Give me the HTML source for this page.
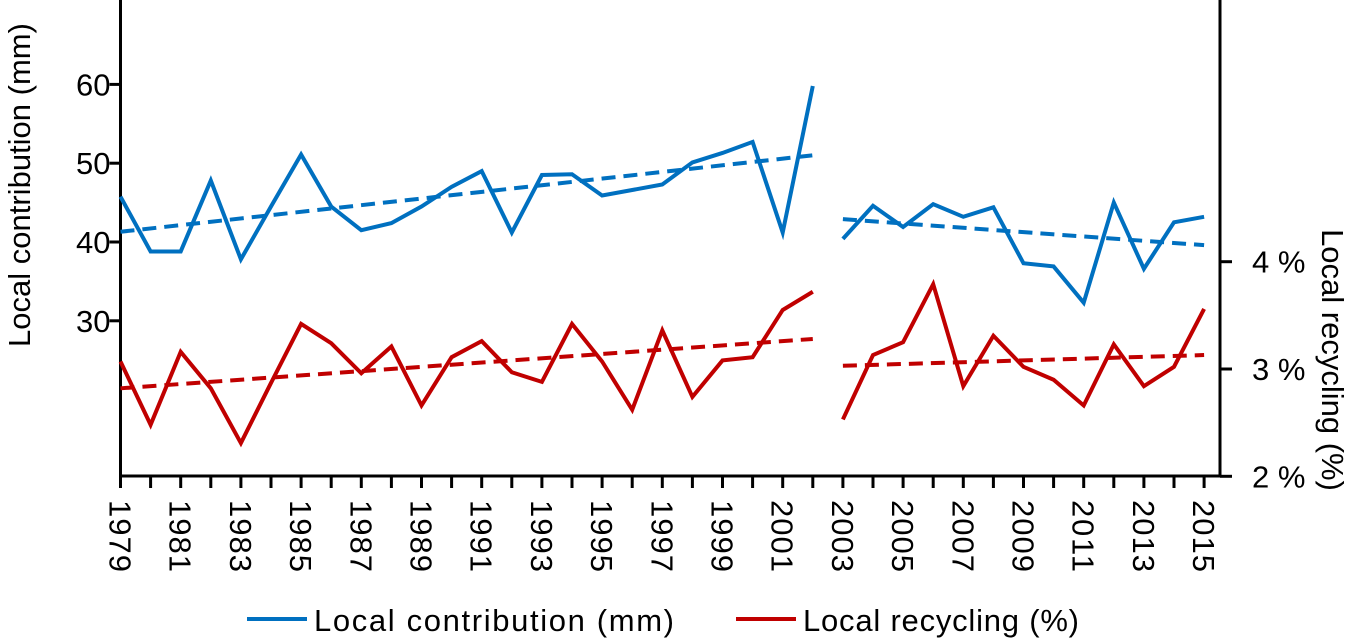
<!DOCTYPE html>
<html><head><meta charset="utf-8"><style>
html,body{margin:0;padding:0;background:#fff;overflow:hidden;}
svg{display:block;font-family:"Liberation Sans",sans-serif;}
</style></head><body>
<svg id="chart" width="1349" height="638" viewBox="0 0 1349 638">
<g id="axes"></g>
<g id="series"></g>
<text transform="translate(30,185) rotate(-90)" text-anchor="middle" font-size="31">Local contribution (mm)</text>
<text transform="translate(1322,360) rotate(90)" text-anchor="middle" font-size="31">Local recycling (%)</text>
<g>
<line x1="247" y1="619" x2="307" y2="619" stroke="#0070C0" stroke-width="4"/>
<text x="314" y="631" font-size="31" textLength="360">Local contribution (mm)</text>
<line x1="736" y1="619" x2="796" y2="619" stroke="#C00000" stroke-width="4"/>
<text x="803" y="631" font-size="31" textLength="276">Local recycling (%)</text>
</g>
</svg>
<script>
const years = [1979,1980,1981,1982,1983,1984,1985,1986,1987,1988,1989,1990,1991,1992,1993,1994,1995,1996,1997,1998,1999,2000,2001,2002,2003,2004,2005,2006,2007,2008,2009,2010,2011,2012,2013,2014,2015];
const contribution = [45.75,38.8,38.8,47.8,37.8,44.5,51.1,44.5,41.5,42.4,44.5,47.0,49.0,41.2,48.5,48.6,45.9,46.6,47.3,50.1,51.3,52.7,41.2,59.8,40.4,44.6,41.9,44.8,43.2,44.4,37.3,36.9,32.3,45.0,36.6,42.5,43.2];
const recycling = [3.07,2.48,3.16,2.82,2.31,2.87,3.42,3.24,2.96,3.21,2.66,3.11,3.26,2.97,2.88,3.42,3.07,2.62,3.36,2.74,3.08,3.11,3.55,3.72,2.53,3.13,3.25,3.79,2.84,3.31,3.02,2.90,2.66,3.23,2.84,3.02,3.56];
const contribTrendYears1 = [1979,2002];
const contribTrend1 = [41.3,51.0];
const contribTrendYears2 = [2003,2015];
const contribTrend2 = [42.9,39.6];
const recycTrend1 = [2.82,3.28];
const recycTrend2 = [3.03,3.13];
const leftTicks = [30,40,50,60];
const rightTicks = [2,3,4];
const rightTickLabels = ["2 %","3 %","4 %"];
const splitYear = 2003;

const NS="http://www.w3.org/2000/svg";
const X0=120.5, XR=1220, YB=476;
const xs = y => X0 + (y-1979)*30.1;
const yl = v => 242 - (v-40)*7.88;
const yr = v => 369 - (v-3)*107.3;
function mk(tag,attrs,parent){const e=document.createElementNS(NS,tag);for(const k in attrs)e.setAttribute(k,attrs[k]);parent.appendChild(e);return e;}
const axes=document.getElementById('axes'), ser=document.getElementById('series');

let a=mk('line',{x1:X0,y1:0,x2:X0,y2:YB+1,stroke:'#000','stroke-width':3},axes);


a=mk('line',{x1:XR,y1:0,x2:XR,y2:YB+1,stroke:'#000','stroke-width':3},axes);


a=mk('line',{x1:X0-1,y1:YB,x2:XR+1,y2:YB,stroke:'#000','stroke-width':3},axes);



leftTicks.forEach(v=>{
  const t=mk('line',{x1:X0-11,y1:yl(v),x2:X0,y2:yl(v),stroke:'#000','stroke-width':3},axes);
  
  
  const l=mk('text',{x:X0-10,y:yl(v)+11,'text-anchor':'end','font-size':31},axes);
  l.textContent=v;
  
  
});
rightTicks.forEach((v,k)=>{
  const t=mk('line',{x1:XR,y1:yr(v),x2:XR+12,y2:yr(v),stroke:'#000','stroke-width':3},axes);
  
  
  const l=mk('text',{x:1252,y:yr(v)+11,'font-size':31},axes);
  l.textContent=rightTickLabels[k];
  
  
});
years.forEach(y=>{
  const t=mk('line',{x1:xs(y),y1:YB,x2:xs(y),y2:YB+12,stroke:'#000','stroke-width':3},axes);
  
  
  if((y-1979)%2===0){
    const l=mk('text',{transform:`translate(${xs(y)-11},500) rotate(90)`,'font-size':31,textLength:72},axes);
    l.textContent=y;
    
    
  }
});
function poly(xv,yv,fy,color,dash,name){
  const pts=xv.map((x,j)=>xs(x)+','+fy(yv[j])).join(' ');
  const attrs={points:pts,fill:'none',stroke:color,'stroke-width':4,'stroke-linejoin':'miter'};
  if(dash)attrs['stroke-dasharray']='14,8';
  const p=mk('polyline',attrs,ser);
  
  
}
const si=years.indexOf(splitYear);
poly(contribTrendYears1,contribTrend1,yl,'#0070C0',true,'contribution-trend-1979-2002');
poly(contribTrendYears2,contribTrend2,yl,'#0070C0',true,'contribution-trend-2003-2015');
poly(contribTrendYears1,recycTrend1,yr,'#C00000',true,'recycling-trend-1979-2002');
poly(contribTrendYears2,recycTrend2,yr,'#C00000',true,'recycling-trend-2003-2015');
poly(years.slice(0,si),contribution.slice(0,si),yl,'#0070C0',false,'contribution-line-1979-2002');
poly(years.slice(si),contribution.slice(si),yl,'#0070C0',false,'contribution-line-2003-2015');
poly(years.slice(0,si),recycling.slice(0,si),yr,'#C00000',false,'recycling-line-1979-2002');
poly(years.slice(si),recycling.slice(si),yr,'#C00000',false,'recycling-line-2003-2015');
</script>
</body></html>
